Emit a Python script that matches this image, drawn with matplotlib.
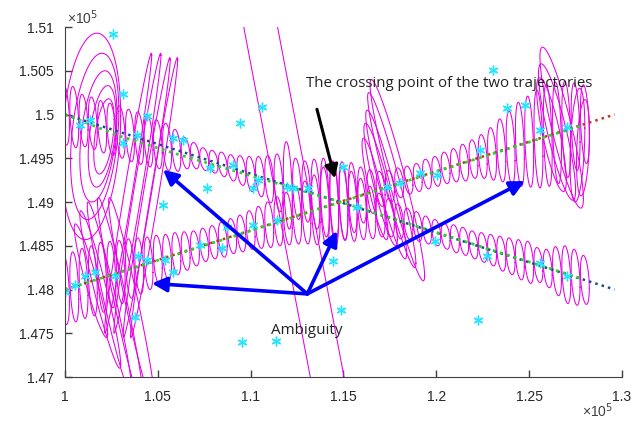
import numpy as np
import matplotlib
matplotlib.use('Agg')
import matplotlib.pyplot as plt
from matplotlib.ticker import FuncFormatter

# all values in units of 1e5

# true trajectories (dotted), start and end points
true1_x = [1.000, 1.296]
true1_y = [1.500, 1.480]
true2_x = [1.000, 1.296]
true2_y = [1.480, 1.500]

# estimated trajectories (green dotted)
est1_x = [1.000, 1.030, 1.060, 1.150, 1.279]
est1_y = [1.5000, 1.4975, 1.4955, 1.4899, 1.4812]
est2_x = [1.000, 1.060, 1.150, 1.279]
est2_y = [1.4800, 1.4840, 1.4901, 1.4988]

# scan positions of the track covariance ellipses
scan_x = [1.000, 1.005, 1.010, 1.015, 1.020, 1.025, 1.030, 1.035, 1.040, 1.045,
          1.050, 1.055, 1.060, 1.065, 1.070, 1.075, 1.080, 1.085, 1.090, 1.095,
          1.100, 1.105, 1.110, 1.115, 1.120, 1.125, 1.130, 1.135, 1.140, 1.145,
          1.150, 1.155, 1.160, 1.165, 1.170, 1.175, 1.180, 1.185, 1.190, 1.195,
          1.200, 1.205, 1.210, 1.215, 1.220, 1.225, 1.230, 1.235, 1.240, 1.245,
          1.250, 1.255, 1.260, 1.265, 1.270, 1.275, 1.280]
track1_y = [1.5000, 1.4997, 1.4993, 1.4990, 1.4986, 1.4983, 1.4980, 1.4976, 1.4973, 1.4970,
            1.4966, 1.4963, 1.4959, 1.4956, 1.4953, 1.4949, 1.4946, 1.4943, 1.4939, 1.4936,
            1.4932, 1.4929, 1.4926, 1.4922, 1.4919, 1.4915, 1.4912, 1.4909, 1.4905, 1.4902,
            1.4899, 1.4895, 1.4892, 1.4888, 1.4885, 1.4882, 1.4878, 1.4875, 1.4872, 1.4868,
            1.4865, 1.4861, 1.4858, 1.4855, 1.4851, 1.4848, 1.4845, 1.4841, 1.4838, 1.4834,
            1.4831, 1.4828, 1.4824, 1.4821, 1.4817, 1.4814, 1.4811]
track1_sy = [0.0035, 0.0035, 0.0030, 0.0030, 0.0030, 0.0030, 0.0030, 0.0030, 0.0030, 0.0030,
             0.0028, 0.0027, 0.0024, 0.0018, 0.0015, 0.0013, 0.0013, 0.0014, 0.0015, 0.0017,
             0.0020, 0.0023, 0.0027, 0.0033, 0.0050, 0.0035, 0.0035, 0.0040, 0.0045, 0.0045,
             0.0042, 0.0040, 0.0035, 0.0030, 0.0025, 0.0022, 0.0020, 0.0018, 0.0017, 0.0016,
             0.0015, 0.0015, 0.0016, 0.0016, 0.0016, 0.0017, 0.0018, 0.0020, 0.0021, 0.0023,
             0.0024, 0.0020, 0.0022, 0.0028, 0.0033, 0.0032, 0.0028]
track2_y = [1.4800, 1.4803, 1.4807, 1.4810, 1.4814, 1.4817, 1.4820, 1.4824, 1.4827, 1.4830,
            1.4834, 1.4837, 1.4841, 1.4844, 1.4847, 1.4851, 1.4854, 1.4857, 1.4861, 1.4864,
            1.4868, 1.4871, 1.4874, 1.4878, 1.4881, 1.4885, 1.4888, 1.4891, 1.4895, 1.4898,
            1.4901, 1.4905, 1.4908, 1.4912, 1.4915, 1.4918, 1.4922, 1.4925, 1.4928, 1.4932,
            1.4935, 1.4939, 1.4942, 1.4945, 1.4949, 1.4952, 1.4955, 1.4959, 1.4962, 1.4966,
            1.4969, 1.4972, 1.4976, 1.4979, 1.4983, 1.4986, 1.4989]
track2_sy = [0.0040, 0.0040, 0.0040, 0.0040, 0.0040, 0.0038, 0.0036, 0.0034, 0.0032, 0.0030,
             0.0028, 0.0026, 0.0024, 0.0022, 0.0020, 0.0019, 0.0019, 0.0020, 0.0020, 0.0021,
             0.0022, 0.0024, 0.0026, 0.0028, 0.0030, 0.0033, 0.0036, 0.0040, 0.0045, 0.0048,
             0.0045, 0.0040, 0.0032, 0.0025, 0.0020, 0.0018, 0.0017, 0.0016, 0.0016, 0.0017,
             0.0017, 0.0018, 0.0019, 0.0021, 0.0022, 0.0025, 0.0030, 0.0036, 0.0042, 0.0048,
             0.0052, 0.0056, 0.0058, 0.0058, 0.0055, 0.0050, 0.0045]

# large / tilted covariance ellipses: centre x, centre y, sigma x, sigma y, correlation
big_cx = [1.1233,
          1.034, 1.039, 1.044, 1.048,
          1.014, 1.016, 1.018, 1.020, 1.021,
          1.014, 1.019, 1.024, 1.030, 1.036,
          1.179, 1.176, 1.173, 1.170, 1.167,
          1.2675, 1.265, 1.262, 1.276, 1.279]
big_cy = [1.4900,
          1.4910, 1.4910, 1.4905, 1.4905,
          1.4975, 1.4975, 1.4975, 1.4975, 1.4975,
          1.4810, 1.4800, 1.4790, 1.4785, 1.4785,
          1.4925, 1.4925, 1.4920, 1.4920, 1.4915,
          1.4985, 1.4980, 1.4977, 1.4965, 1.4962]
big_sx = [0.1794,
          0.0127, 0.0127, 0.0127, 0.0127,
          0.0160, 0.0130, 0.0100, 0.0075, 0.0055,
          0.0090, 0.0110, 0.0120, 0.0125, 0.0125,
          0.0147, 0.0130, 0.0110, 0.0090, 0.0070,
          0.0117, 0.0100, 0.0080, 0.0040, 0.0035]
big_sy = [0.2000,
          0.0160, 0.0160, 0.0160, 0.0160,
          0.0118, 0.0095, 0.0075, 0.0058, 0.0043,
          0.0065, 0.0090, 0.0110, 0.0120, 0.0120,
          0.0115, 0.0100, 0.0085, 0.0070, 0.0058,
          0.0092, 0.0078, 0.0065, 0.0065, 0.0055]
big_rho = [-0.9987,
           0.985, 0.985, 0.985, 0.985,
           0.20, 0.30, 0.35, 0.40, 0.45,
           -0.93, -0.95, -0.96, -0.96, -0.96,
           -0.95, -0.95, -0.93, -0.90, -0.88,
           -0.88, -0.85, -0.80, 0.30, 0.30]

# measurements (cyan asterisks)
meas_x = [1.0258, 1.0312, 1.0442, 1.0942, 1.1060, 1.0765, 1.0080, 1.0135, 1.0310, 1.0388,
          1.0580, 1.0635, 1.0780, 1.0905, 1.1040, 1.1195, 1.0528, 1.2305, 1.2380, 1.2477,
          1.2558, 1.2703, 1.1497, 1.1734, 1.1910, 1.2003, 1.2235, 1.1804, 1.1309, 1.1012,
          1.1228, 1.1572, 1.0000, 1.0054, 1.0108, 1.0162, 1.0270, 1.0393, 1.0442, 1.0539,
          1.0582, 1.0377, 1.0727, 1.0845, 1.0953, 1.1136, 1.0872, 1.1012, 1.1142, 1.1443,
          1.1486, 1.2224, 1.1992, 1.2272, 1.2558, 1.2703]
meas_y = [1.5092, 1.5023, 1.4998, 1.4990, 1.5009, 1.4916, 1.4988, 1.4994, 1.4967, 1.4977,
          1.4973, 1.4971, 1.4939, 1.4942, 1.4925, 1.4917, 1.4897, 1.5051, 1.5007, 1.5011,
          1.4982, 1.4986, 1.4940, 1.4917, 1.4933, 1.4931, 1.4959, 1.4922, 1.4916, 1.4916,
          1.4916, 1.4894, 1.4797, 1.4805, 1.4815, 1.4820, 1.4815, 1.4838, 1.4834, 1.4834,
          1.4820, 1.4769, 1.4851, 1.4847, 1.4740, 1.4741, 1.4871, 1.4874, 1.4880, 1.4833,
          1.4777, 1.4765, 1.4856, 1.4838, 1.4830, 1.4815]

# ambiguity arrows: one base, four tips
amb_base = (1.1305, 1.4795)
amb_tips_x = [1.0528, 1.0468, 1.1465, 1.2477]
amb_tips_y = [1.4937, 1.4807, 1.4867, 1.4924]

x_ticks = [1.0, 1.05, 1.1, 1.15, 1.2, 1.25, 1.3]
y_ticks = [1.47, 1.475, 1.48, 1.485, 1.49, 1.495, 1.5, 1.505, 1.51]

MAG = '#e600e6'
CYAN = '#22e5ff'


def ellipse(ax, cx, cy, sx, sy, rho, n=600):
    t = np.linspace(0, 2 * np.pi, n)
    ex = cx + sx * np.cos(t)
    ey = cy + sy * (rho * np.cos(t) + np.sqrt(1 - rho ** 2) * np.sin(t))
    ax.plot(ex, ey, color=MAG, lw=0.75)


fig = plt.figure(figsize=(6.39, 4.26), dpi=100)
ax = fig.add_axes([0.1017, 0.115, 0.8717, 0.8216])

for i in range(len(scan_x)):
    ellipse(ax, scan_x[i], track1_y[i], 0.0024, track1_sy[i], -0.35)
    ellipse(ax, scan_x[i], track2_y[i], 0.0024, track2_sy[i], -0.35)
for i in range(len(big_cx)):
    ellipse(ax, big_cx[i], big_cy[i], big_sx[i], big_sy[i], big_rho[i], n=4000)

ax.plot(true1_x, true1_y, ':', color='#1a4a8a', lw=1.8)
ax.plot(true2_x, true2_y, ':', color='#b83a1e', lw=1.8)
ax.plot(est1_x, est1_y, ':', color='#33cc33', lw=2.0)
ax.plot(est2_x, est2_y, ':', color='#33cc33', lw=2.0)

# six-line asterisk like the original stars
ax.plot(meas_x, meas_y, marker=(6, 2, 0), color=CYAN, ms=7, mew=1.0, ls='none')

for tx, ty in zip(amb_tips_x, amb_tips_y):
    ax.annotate('', xy=(tx, ty), xytext=amb_base,
                arrowprops=dict(arrowstyle='-|>', color='#0000ff', lw=2.6,
                                mutation_scale=22, shrinkA=0, shrinkB=0))
ax.annotate('', xy=(1.1454, 1.4927), xytext=(1.1357, 1.5006),
            arrowprops=dict(arrowstyle='-|>', color='black', lw=2.2,
                            mutation_scale=20, shrinkA=0, shrinkB=0))

ax.text(1.1297, 1.5035, 'The crossing point of the two trajectories',
        fontsize=10.8, family='Open Sans', color='#222222', ha='left', va='center')
ax.text(1.1109, 1.4753, 'Ambiguity', fontsize=11, family='Open Sans',
        color='#222222', ha='left', va='center')

ax.set_xlim(1.0, 1.3)
ax.set_ylim(1.47, 1.51)
ax.set_xticks(x_ticks)
ax.set_yticks(y_ticks)
fmt = FuncFormatter(lambda v, p: '%g' % round(v, 4))
ax.xaxis.set_major_formatter(fmt)
ax.yaxis.set_major_formatter(fmt)
ax.tick_params(direction='in', length=5, width=1, colors='#404040',
               labelsize=10, labelcolor='#262626')
ax.tick_params(axis='x', pad=9)
ax.tick_params(axis='y', pad=8)
for lab in ax.get_xticklabels() + ax.get_yticklabels():
    lab.set_family('Liberation Sans')
ax.spines['top'].set_visible(False)
ax.spines['right'].set_visible(False)
ax.spines['left'].set_color('#404040')
ax.spines['bottom'].set_color('#404040')

fig.text(67 / 639, 1 - 18 / 426, '×10$^5$', fontsize=10, color='#404040',
         family='Liberation Sans', ha='left', va='center')
fig.text(582 / 639, 1 - 411 / 426, '×10$^5$', fontsize=10, color='#404040',
         family='Liberation Sans', ha='left', va='center')

fig.savefig('out.png', dpi=100)
